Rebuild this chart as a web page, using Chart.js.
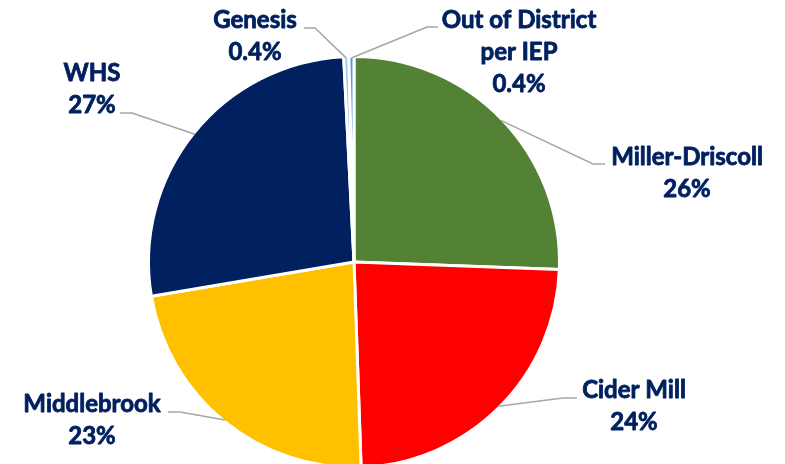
<!DOCTYPE html>
<html>
<head>
<meta charset="utf-8">
<script src="https://cdn.jsdelivr.net/npm/chart.js@4/dist/chart.umd.min.js"></script>
<style>
  html, body { margin: 0; padding: 0; background: #fff; }
  #wrap { width: 785px; height: 464px; }
</style>
</head>
<body>
<div id="wrap"><canvas id="chart" width="785" height="464"></canvas></div>
<script>
// share of students by school, clockwise from 12 o'clock
const schools = ['Miller-Driscoll', 'Cider Mill', 'Middlebrook', 'WHS', 'Genesis', ['Out of District', 'per IEP']];
const shares = [25.6, 23.9, 22.9, 26.9, 0.4, 0.4];
const sliceColors = ['#548235', '#ff0000', '#ffc000', '#002060', '#9dc3e6', '#5b9bd5'];

// where each label sits: text centre x / first baseline, and leader elbow + end
const labelSpots = [
    { tx: 687, ty: 165, elbow: [593, 164], end: [605, 164] },
    { tx: 634, ty: 398, elbow: [563, 398], end: [577, 398] },
    { tx: 92, ty: 412, elbow: [180, 412], end: [168, 412] },
    { tx: 92, ty: 81, elbow: [132, 113], end: [120, 113] },
    { tx: 255, ty: 28, elbow: [315, 28], end: [304, 28] },
    { tx: 519, ty: 28, elbow: [427, 27], end: [438, 27] }
];

const pctText = (v) => (v >= 1 ? Math.round(v) : v.toFixed(1)) + '%';

const calloutPlugin = {
    id: 'callouts',
    afterDatasetsDraw(chart) {
        const ctx = chart.ctx;
        const meta = chart.getDatasetMeta(0);
        ctx.save();
        meta.data.forEach((arc, i) => {
            const p = arc.getProps(['x', 'y', 'startAngle', 'endAngle', 'outerRadius'], true);
            const mid = (p.startAngle + p.endAngle) / 2;
            const r = p.outerRadius - 1.5;
            const ax = p.x + Math.cos(mid) * r;
            const ay = p.y + Math.sin(mid) * r;
            const spot = labelSpots[i];

            ctx.strokeStyle = '#a6a6a6';
            ctx.lineWidth = 1.5;
            ctx.beginPath();
            ctx.moveTo(ax, ay);
            ctx.lineTo(spot.elbow[0], spot.elbow[1]);
            ctx.lineTo(spot.end[0], spot.end[1]);
            ctx.stroke();

            const name = chart.data.labels[i];
            const lines = (Array.isArray(name) ? name : [name]).concat(pctText(shares[i]));
            ctx.fillStyle = '#002060';
            ctx.strokeStyle = '#002060';
            ctx.lineWidth = 0.8;
            ctx.lineJoin = 'round';
            ctx.font = 'bold 24px Lato';
            ctx.textAlign = 'center';
            ctx.textBaseline = 'alphabetic';
            lines.forEach((t, k) => {
                ctx.fillText(t, spot.tx, spot.ty + k * 32);
                ctx.strokeText(t, spot.tx, spot.ty + k * 32);
            });
        });
        ctx.restore();
    }
};

new Chart(document.getElementById('chart'), {
    type: 'pie',
    data: {
        labels: schools,
        datasets: [{
            data: shares,
            backgroundColor: sliceColors,
            borderColor: '#ffffff',
            borderWidth: 3,
            radius: 205.5
        }]
    },
    options: {
        responsive: false,
        animation: false,
        layout: { padding: { top: 60, left: 0, right: 77, bottom: 0 } },
        plugins: {
            legend: { display: false },
            tooltip: { enabled: false }
        }
    },
    plugins: [calloutPlugin]
});
</script>
</body>
</html>
